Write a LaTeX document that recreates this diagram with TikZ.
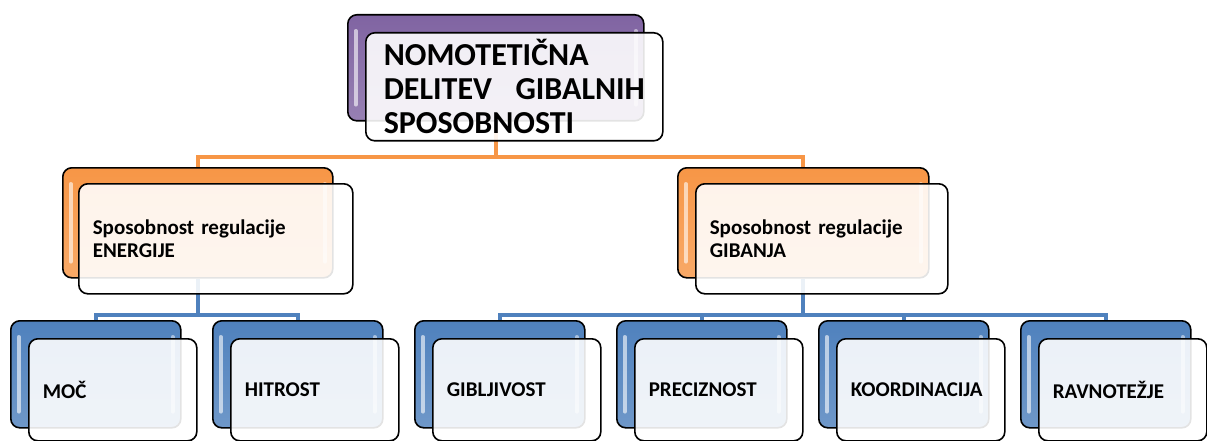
\documentclass[tikz,border=0pt]{standalone}
\usepackage{fontspec}
\setmainfont{Carlito}
\definecolor{purp}{HTML}{8064A2}
\definecolor{orng}{HTML}{F79646}
\definecolor{blu}{HTML}{4F81BD}
\tikzset{
  backbox/.style={draw=black, line width=1.6pt, rounded corners=9pt, anchor=north west,
    top color=#1, bottom color=#1!82!white, inner sep=0pt,
    path picture={
      \draw[white, opacity=0.6, line width=3.5pt, line cap=round]
        ([xshift=8pt,yshift=-16pt]path picture bounding box.north west) --
        ([xshift=8pt,yshift=16pt]path picture bounding box.south west);
      \draw[white, opacity=0.5, line width=3.5pt, line cap=round]
        ([xshift=-8pt,yshift=-16pt]path picture bounding box.north east) --
        ([xshift=-8pt,yshift=16pt]path picture bounding box.south east);
    }},
  frontbox/.style={draw=black, line width=1.6pt, rounded corners=9pt, anchor=north west,
    fill=white, fill opacity=0.89, text opacity=1, align=left, font=\bfseries},
  oline/.style={draw=orng, line width=4pt},
  bline/.style={draw=blu, line width=4pt},
}
\begin{document}
\begin{tikzpicture}[x=1pt,y=-1pt]
\useasboundingbox (0,0) rectangle (1207,441);
% back boxes
\node[backbox=purp, minimum width=296pt, minimum height=106pt] (tb) at (347,14) {};
\node[backbox=orng, minimum width=270pt, minimum height=110pt] (eb) at (62,167) {};
\node[backbox=orng, minimum width=251pt, minimum height=110pt] (gb) at (677,167) {};
\foreach \i in {1,...,6}{
  \node[backbox=blu, minimum width=170pt, minimum height=107pt] (b\i) at ({10+202*(\i-1)},320) {};
}
% connectors
\draw[oline] (tb.south) -- ++(0,35) -| (eb.north);
\draw[oline] (tb.south) -- ++(0,35) -| (gb.north);
\draw[bline] (eb.south) -- ++(0,36) -| (b1.north);
\draw[bline] (eb.south) -- ++(0,36) -| (b2.north);
\foreach \i in {3,...,6}{
  \draw[bline] (gb.south) -- ++(0,36) -| (b\i.north);
}
% front boxes
\node[frontbox, minimum width=297pt, minimum height=108pt, inner xsep=18pt,
  text width=261pt, font=\bfseries\fontsize{32}{34}\selectfont] (tf) at (365,32)
  {NOMOTETIČNA\\ DELITEV\hfill GIBALNIH\\ SPOSOBNOSTI};
\node[frontbox, minimum width=274pt, minimum height=110pt, inner xsep=14pt,
  text width=246pt, font=\bfseries\fontsize{21}{23}\selectfont] (ef) at (78,183)
  {Sposobnost regulacije\\ ENERGIJE};
\node[frontbox, minimum width=252pt, minimum height=110pt, inner xsep=14pt,
  text width=224pt, font=\bfseries\fontsize{21}{23}\selectfont] (gf) at (695,183)
  {Sposobnost regulacije\\ GIBANJA};
\foreach \i/\t in {1/MOČ,2/HITROST,3/GIBLJIVOST,4/PRECIZNOST,5/KOORDINACIJA,6/RAVNOTEŽJE}{
  \node[frontbox, minimum width=168pt, minimum height=102pt, inner xsep=14pt,
    text width=140pt, font=\bfseries\fontsize{21}{24}\selectfont] (f\i) at ({28+202*(\i-1)},338) {\t};
}
\end{tikzpicture}
\end{document}
